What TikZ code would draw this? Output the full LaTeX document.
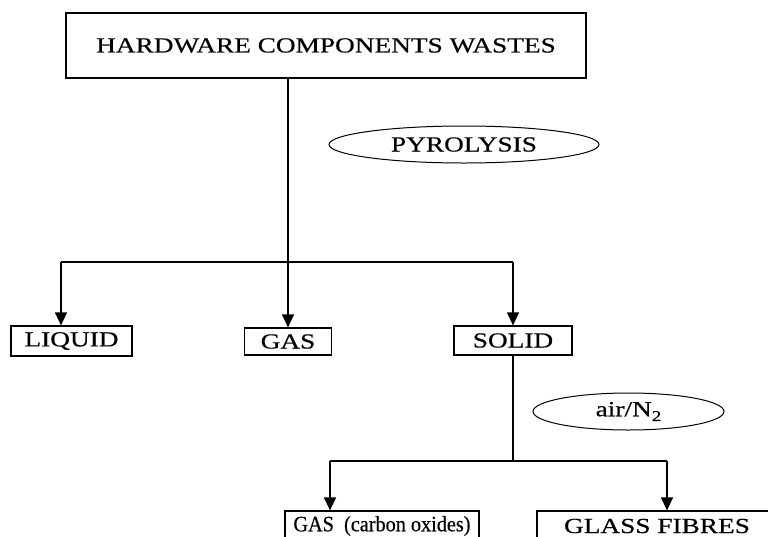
\documentclass[tikz,border=0pt]{standalone}
\usepackage{fontspec}
\setmainfont{Liberation Serif}[FakeStretch=1.27,FakeBold=0.5]
\newfontfamily\plainserif{Liberation Serif}[FakeStretch=0.92,FakeBold=0.5]
\usepackage{tikz}
\usetikzlibrary{positioning,arrows.meta,shapes.geometric}

\newcommand{\subtwo}{\raisebox{-0.22em}{\fontsize{15}{15}\selectfont 2}}

\tikzset{
  stagebox/.style={draw, line width=1.2pt, inner sep=0pt, font=\fontsize{21.5}{25}\selectfont},
  stepoval/.style={draw, ellipse, line width=1pt, inner sep=0pt, font=\fontsize{21.5}{25}\selectfont},
  flow/.style={line width=1.2pt, -{Triangle[length=13pt,width=12pt]}},
  link/.style={line width=1.2pt}
}

\begin{document}
\begin{tikzpicture}[x=1pt,y=-1pt]
      \useasboundingbox (0,0) rectangle (768,536);
      \node[stagebox, minimum width=520pt, minimum height=65pt] (wastes) at (326,45.5) {HARDWARE COMPONENTS WASTES};
      \node[stepoval, minimum width=270pt, minimum height=37pt] (pyro) at (464,144.5) {PYROLYSIS};
      \node[stagebox, minimum width=121pt, minimum height=30pt] (liquid) at (71.5,341) {LIQUID};
      \node[stagebox, minimum width=87pt, minimum height=27pt] (gas) at (288,341.5) {GAS};
      \node[stagebox, minimum width=118pt, minimum height=29pt] (solid) at (513,340.5) {SOLID};
      \node[stepoval, minimum width=191pt, minimum height=37pt] (air) at (628.5,411.5) {air/N\subtwo};
      \node[stagebox, minimum width=194pt, minimum height=30pt, font=\plainserif\fontsize{22}{25}\selectfont] (oxides) at (382,526) {GAS~ (carbon oxides)};
      \node[stagebox, minimum width=240pt, minimum height=30pt] (fibres) at (657,526) {GLASS FIBRES};
      % first split
      \coordinate (jleft) at (61,262);
      \coordinate (jright) at (513,262);
      \draw[flow] (wastes.south -| gas) -- (gas.north);
      \draw[link] (jleft) -- (jright);
      \draw[flow] (jleft) -- (jleft |- liquid.north);
      \draw[flow] (jright) -- (jright |- solid.north);
      % second split
      \coordinate (kleft) at (330,461);
      \coordinate (kright) at (667,461);
      \draw[link] (solid.south) -- (solid.south |- kleft);
      \draw[link] (kleft) -- (kright);
      \draw[flow] (kleft) -- (kleft |- oxides.north);
      \draw[flow] (kright) -- (kright |- fibres.north);
    \end{tikzpicture}
\end{document}
